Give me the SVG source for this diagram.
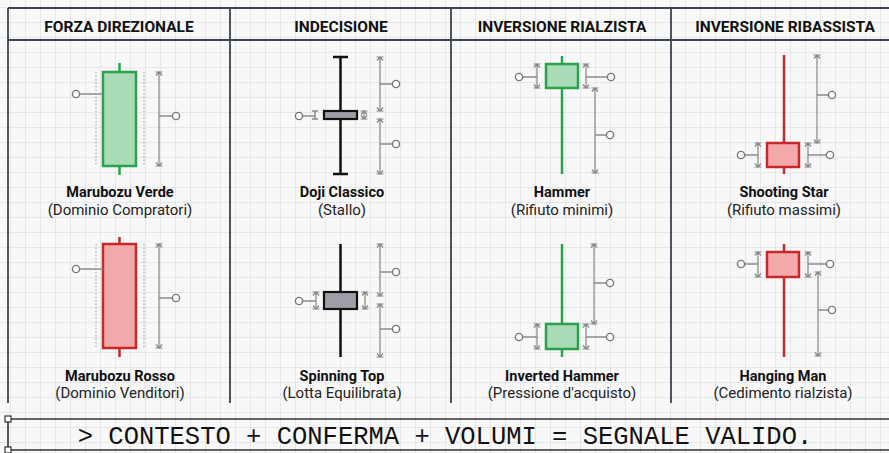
<svg xmlns="http://www.w3.org/2000/svg" width="889" height="453" viewBox="0 0 889 453">
<defs>
<pattern id="grid" x="10" y="7" width="15" height="15" patternUnits="userSpaceOnUse">
<path d="M0,0 H15 M0,0 V15" fill="none" stroke="#d4d6d8" stroke-width="1"/>
</pattern>
<marker id="dim" viewBox="-6 -6 12 12" markerWidth="12" markerHeight="12" refX="0" refY="0" orient="auto-start-reverse" markerUnits="userSpaceOnUse">
<path d="M-3.5,-3 L0,0 L-3.5,3 M0,-3.5 L0,3.5" fill="none" stroke="#858585" stroke-width="1.2"/>
</marker>
<style>
.frame{stroke:#3b4550;stroke-width:1.8;fill:none}
.hdr{font-family:Roboto,"Liberation Sans",sans-serif;font-weight:700;font-size:15.5px;fill:#111;text-anchor:middle}
.name{font-family:Roboto,"Liberation Sans",sans-serif;font-weight:700;font-size:14.5px;fill:#111;text-anchor:middle}
.sub{font-family:Roboto,"Liberation Sans",sans-serif;font-size:15px;fill:#222;text-anchor:middle}
.gw{stroke:#2aa24d;stroke-width:2.5;fill:none}
.gb{stroke:#2aa24d;stroke-width:2.5;fill:#a9dcb6}
.rw{stroke:#c8282a;stroke-width:2.5;fill:none}
.rb{stroke:#c8282a;stroke-width:2.5;fill:#f3a9aa}
.kw{stroke:#111;stroke-width:2.5;fill:none}
.kb{stroke:#111;stroke-width:2.2;fill:#9d9ea6}
.dot{stroke:#999;stroke-width:1;stroke-dasharray:1.5 2;fill:none}
.dim{stroke:#858585;stroke-width:1.2;fill:none;marker-start:url(#dim);marker-end:url(#dim)}
.lead{stroke:#858585;stroke-width:1.4;fill:none}
.pin{stroke:#777;stroke-width:1.4;fill:#fff}
.mono{font-family:"Liberation Mono","DejaVu Sans Mono",monospace;font-size:25.5px;fill:#111;text-anchor:middle}
</style>
</defs>
<rect x="0" y="0" width="889" height="453" fill="#f8f8f8"/>
<rect x="0" y="0" width="889" height="453" fill="url(#grid)"/>

<g id="table">
<path class="frame" d="M8,8 H889 M8,40 H889 M8,8 V403 M230,8 V403 M451,8 V403 M671,8 V403"/>
<text class="hdr" x="119" y="32">FORZA DIREZIONALE</text>
<text class="hdr" x="341" y="32">INDECISIONE</text>
<text class="hdr" x="562" y="32">INVERSIONE RIALZISTA</text>
<text class="hdr" x="785" y="32">INVERSIONE RIBASSISTA</text>
</g>

<g id="marubozu-verde">
<line class="dot" x1="96" y1="72" x2="96" y2="166"/>
<line class="dot" x1="144" y1="72" x2="144" y2="166"/>
<line class="gw" x1="119.5" y1="63" x2="119.5" y2="175"/>
<rect class="gb" x="103" y="72" width="33" height="94"/>
<text class="name" x="120" y="197">Marubozu Verde</text>
<text class="sub" x="120" y="215">(Dominio Compratori)</text>
</g>

<g id="marubozu-rosso">
<line class="dot" x1="96" y1="244" x2="96" y2="348"/>
<line class="dot" x1="144" y1="244" x2="144" y2="348"/>
<line class="rw" x1="119.5" y1="237" x2="119.5" y2="357"/>
<rect class="rb" x="103" y="244" width="33" height="104"/>
<text class="name" x="120" y="381">Marubozu Rosso</text>
<text class="sub" x="120" y="398">(Dominio Venditori)</text>
</g>

<g id="doji-classico">
<path class="kw" d="M340.5,57 V174 M333,57 H348 M333,174 H348"/>
<rect class="kb" x="324" y="111" width="33" height="8"/>
<text class="name" x="342" y="197">Doji Classico</text>
<text class="sub" x="342" y="215">(Stallo)</text>
</g>

<g id="spinning-top">
<path class="kw" d="M340.5,244 V357"/>
<rect class="kb" x="324" y="292" width="33" height="17"/>
<text class="name" x="342" y="381">Spinning Top</text>
<text class="sub" x="342" y="398">(Lotta Equilibrata)</text>
</g>

<g id="hammer">
<line class="gw" x1="562" y1="56" x2="562" y2="174"/>
<rect class="gb" x="546" y="64" width="32" height="24"/>
<text class="name" x="562" y="197">Hammer</text>
<text class="sub" x="562" y="215">(Rifiuto minimi)</text>
</g>

<g id="inverted-hammer">
<line class="gw" x1="562" y1="244" x2="562" y2="357"/>
<rect class="gb" x="546" y="324" width="32" height="25"/>
<text class="name" x="562" y="381">Inverted Hammer</text>
<text class="sub" x="562" y="398">(Pressione d'acquisto)</text>
</g>

<g id="shooting-star">
<line class="rw" x1="784" y1="55" x2="784" y2="174"/>
<rect class="rb" x="767" y="143" width="32" height="24"/>
<text class="name" x="784" y="197">Shooting Star</text>
<text class="sub" x="784" y="215">(Rifiuto massimi)</text>
</g>

<g id="hanging-man">
<line class="rw" x1="784" y1="244" x2="784" y2="357"/>
<rect class="rb" x="767" y="252" width="32" height="25"/>
<text class="name" x="783" y="381">Hanging Man</text>
<text class="sub" x="783" y="398">(Cedimento rialzista)</text>
</g>

<g id="connectors">
<path class="lead" d="M80,94 H103"/><circle class="pin" cx="76" cy="94" r="3.6"/>
<line class="dim" x1="159" y1="72" x2="159" y2="166"/>
<path class="lead" d="M159,116 H172"/><circle class="pin" cx="176" cy="116" r="3.6"/>
<path class="lead" d="M80,269 H103"/><circle class="pin" cx="76" cy="269" r="3.6"/>
<line class="dim" x1="159" y1="244" x2="159" y2="348"/>
<path class="lead" d="M159,298 H172"/><circle class="pin" cx="176" cy="298" r="3.6"/>
<path class="lead" d="M303,116 H315"/><circle class="pin" cx="299" cy="116" r="3.6"/>
<path class="lead" d="M315,111 V119 M312,111 H318 M312,119 H318"/>
<line class="dim" x1="364" y1="111" x2="364" y2="119"/>
<line class="dim" x1="380" y1="57" x2="380" y2="111"/>
<path class="lead" d="M380,84 H392"/><circle class="pin" cx="396" cy="84" r="3.6"/>
<line class="dim" x1="380" y1="119" x2="380" y2="174"/>
<path class="lead" d="M380,144 H392"/><circle class="pin" cx="396" cy="144" r="3.6"/>
<path class="lead" d="M303,301 H316"/><circle class="pin" cx="299" cy="301" r="3.6"/>
<line class="dim" x1="316" y1="292" x2="316" y2="309"/>
<line class="dim" x1="365" y1="292" x2="365" y2="309"/>
<line class="dim" x1="380" y1="244" x2="380" y2="296"/>
<path class="lead" d="M380,272 H392"/><circle class="pin" cx="396" cy="272" r="3.6"/>
<line class="dim" x1="380" y1="304" x2="380" y2="357"/>
<path class="lead" d="M380,329 H392"/><circle class="pin" cx="396" cy="329" r="3.6"/>
<path class="lead" d="M523,77 H537"/><circle class="pin" cx="519" cy="77" r="3.6"/>
<line class="dim" x1="537" y1="64" x2="537" y2="88"/>
<line class="dim" x1="586" y1="64" x2="586" y2="88"/>
<path class="lead" d="M586,77 H607"/><circle class="pin" cx="611" cy="77" r="3.6"/>
<line class="dim" x1="595" y1="88" x2="595" y2="173"/>
<path class="lead" d="M595,135 H606"/><circle class="pin" cx="610" cy="135" r="3.6"/>
<path class="lead" d="M523,337 H537"/><circle class="pin" cx="519" cy="337" r="3.6"/>
<line class="dim" x1="537" y1="324" x2="537" y2="349"/>
<line class="dim" x1="586" y1="324" x2="586" y2="349"/>
<path class="lead" d="M586,337 H606"/><circle class="pin" cx="610" cy="337" r="3.6"/>
<line class="dim" x1="594" y1="244" x2="594" y2="324"/>
<path class="lead" d="M594,283 H606"/><circle class="pin" cx="610" cy="283" r="3.6"/>
<path class="lead" d="M745,155 H758"/><circle class="pin" cx="741" cy="155" r="3.6"/>
<line class="dim" x1="758" y1="143" x2="758" y2="167"/>
<line class="dim" x1="808" y1="143" x2="808" y2="167"/>
<path class="lead" d="M808,155 H826"/><circle class="pin" cx="830" cy="155" r="3.6"/>
<line class="dim" x1="817" y1="55" x2="817" y2="143"/>
<path class="lead" d="M817,95 H828"/><circle class="pin" cx="832" cy="95" r="3.6"/>
<path class="lead" d="M745,264 H758"/><circle class="pin" cx="741" cy="264" r="3.6"/>
<line class="dim" x1="758" y1="252" x2="758" y2="277"/>
<line class="dim" x1="808" y1="252" x2="808" y2="277"/>
<path class="lead" d="M808,264 H826"/><circle class="pin" cx="830" cy="264" r="3.6"/>
<line class="dim" x1="818" y1="272" x2="818" y2="356"/>
<path class="lead" d="M818,310 H828"/><circle class="pin" cx="832" cy="310" r="3.6"/>
</g>

<g id="footer">
<path d="M8,419 H889 M8,450 H889 M8,419 V450" stroke="#333" stroke-width="1.6" fill="none"/>
<rect x="5" y="416" width="6" height="6" fill="#fff" stroke="#333" stroke-width="1.2"/>
<rect x="5" y="447" width="6" height="6" fill="#fff" stroke="#333" stroke-width="1.2"/>
<text class="mono" x="445" y="444">&gt; CONTESTO + CONFERMA + VOLUMI = SEGNALE VALIDO.</text>
</g>
</svg>
